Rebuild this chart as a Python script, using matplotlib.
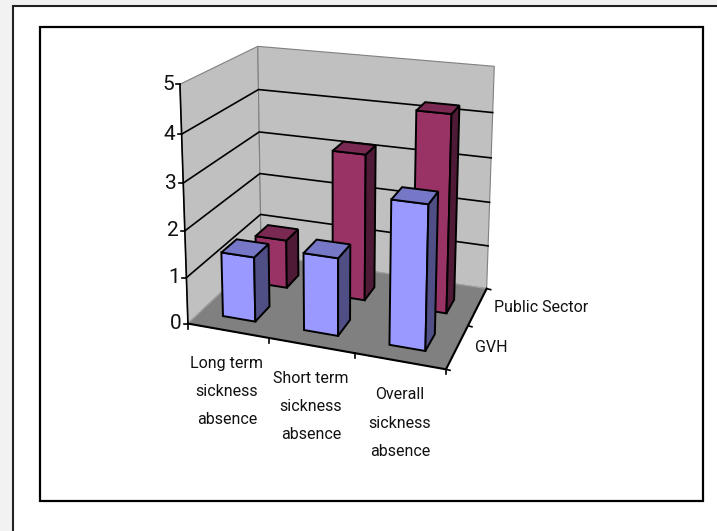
import numpy as np
import matplotlib
matplotlib.use("Agg")
import matplotlib.pyplot as plt
from matplotlib.patches import Polygon, Rectangle

# chart data
categories = ["Long term\nsickness\nabsence", "Short term\nsickness\nabsence", "Overall\nsickness\nabsence"]
series_names = ["GVH", "Public Sector"]
gvh_values = [1.4, 1.65, 3.0]
public_values = [1.1, 3.25, 4.3]
z_ticks = [0, 1, 2, 3, 4, 5]

W, H = 717, 531

# pixel positions of points on the plot box (corners and gridline ends), used to fit the projection
box_points = [(0, 0, 0), (1, 0, 0), (1, 1, 0), (0, 1, 0), (0, 0, 1), (0, 1, 1), (1, 1, 1),
              (0, 0, .8), (0, 0, .6), (0, 0, .4), (0, 0, .2),
              (0, 1, .8), (0, 1, .6), (0, 1, .4), (0, 1, .2),
              (1, 1, .8), (1, 1, .6), (1, 1, .4), (1, 1, .2)]
box_pixels = [(187, 323), (446, 370), (487, 287), (262, 255), (181, 84), (257, 45), (495, 67),
              (182, 135), (183.5, 183), (184.5, 230), (186, 278),
              (258, 90), (259, 133), (260, 174), (261, 214),
              (492, 112), (491, 157), (489.5, 203), (488, 247)]


def fit_projection():
    rows = []
    for (x, y, z), (u, v) in zip(box_points, box_pixels):
        rows.append([x, y, z, 1, 0, 0, 0, 0, -u * x, -u * y, -u * z, -u])
        rows.append([0, 0, 0, 0, x, y, z, 1, -v * x, -v * y, -v * z, -v])
    return np.linalg.svd(np.array(rows, float))[2][-1].reshape(3, 4)


P = fit_projection()


def proj(x, y, z):
    p = P @ np.array([x, y, z / 5.0, 1.0])
    return p[0] / p[2], p[1] / p[2]


def face(ax, pts, color, lw=1.4, ec="black", zorder=2):
    ax.add_patch(Polygon([proj(*p) for p in pts], closed=True, fc=color, ec=ec, lw=lw,
                         joinstyle="miter", zorder=zorder))


def bar(ax, x0, x1, y0, y1, h, colors, zorder):
    front, side, top = colors
    face(ax, [(x0, y0, 0), (x1, y0, 0), (x1, y0, h), (x0, y0, h)], front, zorder=zorder)
    face(ax, [(x1, y0, 0), (x1, y1, 0), (x1, y1, h), (x1, y0, h)], side, zorder=zorder)
    face(ax, [(x0, y0, h), (x1, y0, h), (x1, y1, h), (x0, y1, h)], top, zorder=zorder)


plt.rcParams["font.family"] = ["Roboto", "Liberation Sans", "DejaVu Sans"]

fig = plt.figure(figsize=(W / 100, H / 100), dpi=100, facecolor="#f2f2f2")
ax = fig.add_axes([0, 0, 1, 1])
ax.set_xlim(0, W)
ax.set_ylim(H, 0)
ax.axis("off")

# outer slide panel runs off the page, then the chart frame
ax.add_patch(Rectangle((13, 6), 760, 560, fc="white", ec="#222222", lw=1.5, zorder=0))
ax.add_patch(Rectangle((40, 26.5), 663, 474.5, fc="white", ec="black", lw=1.6, zorder=0.5))

# walls and floor
face(ax, [(0, 0, 0), (0, 1, 0), (0, 1, 5), (0, 0, 5)], "#c0c0c0", lw=0.8, ec="#808080", zorder=1)
face(ax, [(0, 1, 0), (1, 1, 0), (1, 1, 5), (0, 1, 5)], "#c0c0c0", lw=0.8, ec="#808080", zorder=1)
face(ax, [(0, 0, 0), (1, 0, 0), (1, 1, 0), (0, 1, 0)], "#808080", lw=0.8, ec="#a0a0a0", zorder=1.1)

# gridlines
for z in z_ticks[1:-1]:
    pts = [proj(0, 0, z), proj(0, 1, z), proj(1, 1, z)]
    ax.plot([p[0] for p in pts], [p[1] for p in pts], color="black", lw=1.2, zorder=1.2)

# axis lines and ticks
ax.plot(*zip(proj(0, 0, 0), proj(0, 0, 5)), color="black", lw=1.2, zorder=1.3)
ax.plot(*zip(proj(0, 0, 0), proj(1, 0, 0), proj(1, 1, 0)), color="black", lw=1.5, zorder=1.3)
for z in z_ticks:
    u, v = proj(0, 0, z)
    ax.plot([u - 4, u], [v, v], color="black", lw=1.2, zorder=1.3)
    ax.text(u - 6, v, str(z), ha="right", va="center", fontsize=15, color="#111111", zorder=3)
for i in range(4):
    u, v = proj(i / 3, 0, 0)
    ax.plot([u, u], [v, v + 5], color="black", lw=1.2, zorder=1.3)
for y in [0, 0.5, 1]:
    u, v = proj(1, y, 0)
    ax.plot([u, u + 4], [v, v + 1], color="black", lw=1.2, zorder=1.3)

# bars, back row first
red_colors = ("#993366", "#4f1a35", "#7a2952")
blue_colors = ("#9999ff", "#4f4f85", "#7777c7")
bar_w = 0.135
for i, val in enumerate(public_values):
    xc = (i + 0.5) / 3 - 0.002
    bar(ax, xc - bar_w / 2, xc + bar_w / 2, 0.605, 0.79, val, red_colors, 2 + i * 0.1)
for i, val in enumerate(gvh_values):
    xc = (i + 0.5) / 3 - 0.002
    bar(ax, xc - bar_w / 2, xc + bar_w / 2, 0.147, 0.345, val, blue_colors, 3 + i * 0.1)

# category labels
label_pos = [(227, 391.5), (311, 406.5), (400, 423)]
for lab, (u, v) in zip(categories, label_pos):
    ax.text(u, v, lab, ha="center", va="center", fontsize=11.5, linespacing=2.1, color="#111111")
ax.text(494, 308, series_names[1], ha="left", va="center", fontsize=11.5, color="#111111")
ax.text(475, 347, series_names[0], ha="left", va="center", fontsize=11.5, color="#111111")

fig.savefig("out.png", dpi=100, facecolor=fig.get_facecolor())
